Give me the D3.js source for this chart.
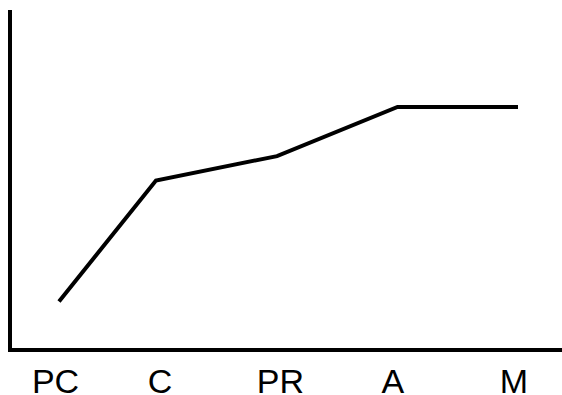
<!DOCTYPE html>
<html>
<head>
<meta charset="utf-8">
<script src="https://cdn.jsdelivr.net/npm/d3@7"></script>
<style>
  html, body { margin: 0; padding: 0; background: #fff; }
  svg { display: block; }
</style>
</head>
<body>
<svg id="chart" width="562" height="395"></svg>
<script>
// Data
const categories = ["PC", "C", "PR", "A", "M"];
const pointPositions = [0, 0.845, 1.9, 2.95, 4];     // x position of each point along the category axis
const labelPositions = [-0.03, 0.88, 1.93, 2.91, 3.965]; // x position of each label
const values = [14.3, 50, 57.2, 71.7, 71.7];

const svg = d3.select("#chart");

const x = d3.scaleLinear().domain([0, 4]).range([59, 518]);
const y = d3.scaleLinear().domain([0, 100]).range([350, 11]);

// Axes lines
svg.append("line")
  .attr("x1", 10).attr("x2", 10)
  .attr("y1", y(100) - 1).attr("y2", y(0) + 2)
  .attr("stroke", "#000").attr("stroke-width", 4);

svg.append("line")
  .attr("x1", 8).attr("x2", 562)
  .attr("y1", y(0)).attr("y2", y(0))
  .attr("stroke", "#000").attr("stroke-width", 4);

// Line
const data = categories.map((c, i) => ({ c, px: pointPositions[i], v: values[i] }));
const line = d3.line().x(d => x(d.px)).y(d => y(d.v));

svg.append("path")
  .datum(data)
  .attr("d", line)
  .attr("fill", "none")
  .attr("stroke", "#000")
  .attr("stroke-width", 4)
  .attr("stroke-linejoin", "miter");

// Category labels
svg.selectAll("text.cat")
  .data(categories)
  .enter().append("text")
  .attr("class", "cat")
  .attr("x", (d, i) => x(labelPositions[i]))
  .attr("y", 392.5)
  .attr("text-anchor", "middle")
  .attr("font-family", "Liberation Sans, Arial, sans-serif")
  .attr("font-size", 34)
  .attr("fill", "#000")
  .text(d => d);
</script>
</body>
</html>
